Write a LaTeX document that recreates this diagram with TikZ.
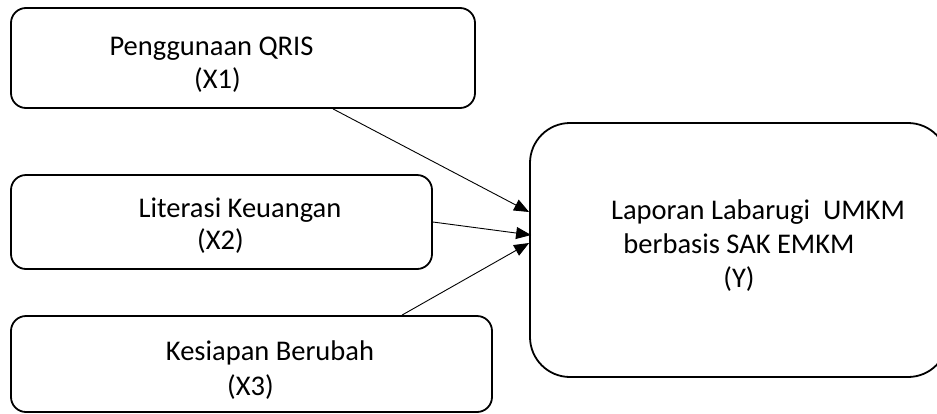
\documentclass[tikz,border=0pt]{standalone}
\usepackage{fontspec}
\setmainfont{Carlito}
\usetikzlibrary{arrows.meta}
\begin{document}
\begin{tikzpicture}[x=1pt,y=-1pt,
  box/.style={draw=black,line width=1.8pt,rounded corners=15pt,inner sep=0pt},
  bigbox/.style={draw=black,line width=1.8pt,rounded corners=40pt,inner sep=0pt},
  lbl/.style={anchor=base,inner sep=0pt,font=\fontsize{28.5}{34}\selectfont},
  arr/.style={line width=0.9pt,-{Triangle[length=15pt,width=12pt]}}]
\useasboundingbox (0,0) rectangle (937,413);
% boxes
\node[box,minimum width=464pt,minimum height=100pt] (b1) at (243,58) {};
\node[box,minimum width=421pt,minimum height=94pt] (b2) at (221.5,222) {};
\node[box,minimum width=481pt,minimum height=96pt] (b3) at (251.5,364) {};
\node[bigbox,minimum width=418pt,minimum height=254pt] (y) at (739,250) {};
% texts
\node[lbl] (t1a) at (211.5,55) {Penggunaan QRIS};
\node[lbl] (t1b) at (217.5,88) {(X1)};
\node[lbl] (t2a) at (240,217) {Literasi Keuangan};
\node[lbl] (t2b) at (220.5,249) {(X2)};
\node[lbl] (t3a) at (270,360) {Kesiapan Berubah};
\node[lbl] (t3b) at (250.5,395) {(X3)};
\node[lbl] (tya) at (758,219) {Laporan Labarugi\ \ UMKM};
\node[lbl] (tyb) at (739,253) {berbasis SAK EMKM};
\node[lbl] (tyc) at (739,287) {(Y)};
% arrows
\draw[arr] ([xshift=90pt]b1.south) -- ([yshift=38pt]y.west);
\draw[arr] (b2.east) -- ([yshift=15pt,xshift=2pt]y.west);
\draw[arr] ([xshift=150.5pt]b3.north) -- ([yshift=7pt]y.west);
\end{tikzpicture}
\end{document}
